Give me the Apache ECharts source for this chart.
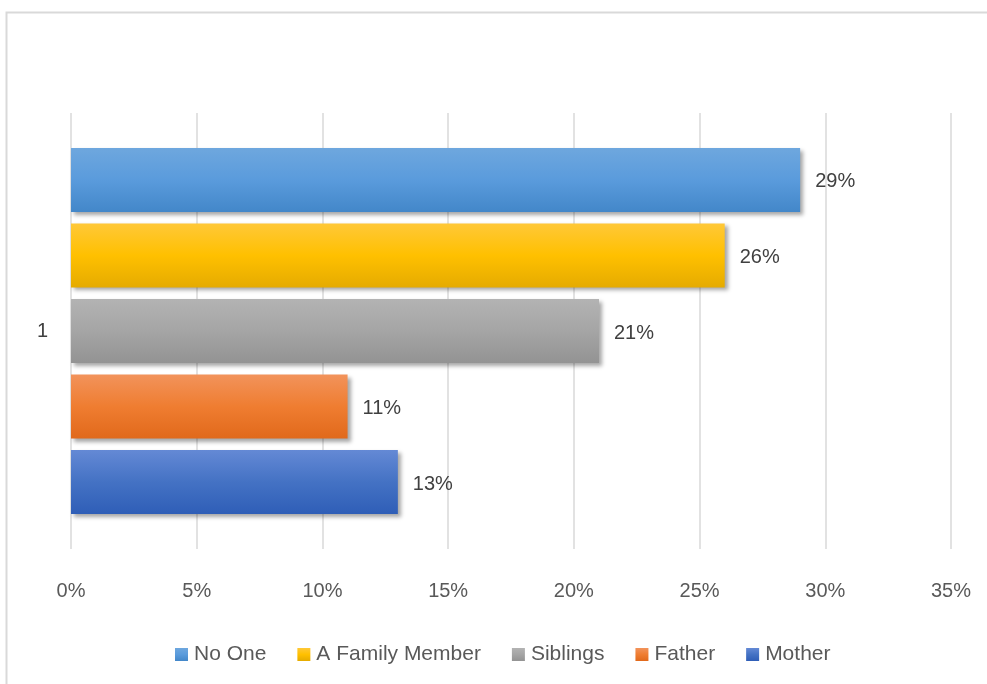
<!DOCTYPE html>
<html>
<head>
<meta charset="utf-8">
<script src="https://cdn.jsdelivr.net/npm/echarts@6/dist/echarts.min.js"></script>
<style>
  html, body { margin: 0; padding: 0; background: #ffffff; }
  #chart { width: 987px; height: 684px; }
</style>
</head>
<body>
<div id="chart"></div>
<script>
// Survey responses, one category, one bar per response
const categories = ['1'];
const seriesNames = ['No One', 'A Family Member', 'Siblings', 'Father', 'Mother'];
const seriesValues = [29, 26, 21, 11, 13];
const xTicks = [0, 5, 10, 15, 20, 25, 30, 35];

// Gradient stops per series: top, middle, bottom
const palette = [
  ['#6ea7de', '#5a9bdc', '#4387c9'],
  ['#ffc838', '#ffc000', '#e5ab00'],
  ['#b3b3b3', '#a5a5a5', '#939393'],
  ['#f2935b', '#ef7d31', '#e1691b'],
  ['#6489d5', '#4472c4', '#2f5eb7']
];

const FONT = 'Liberation Sans';

function gradient(stops) {
  return new echarts.graphic.LinearGradient(0, 0, 0, 1, [
    { offset: 0, color: stops[0] },
    { offset: 0.5, color: stops[1] },
    { offset: 1, color: stops[2] }
  ]);
}

const series = seriesNames.map((name, i) => ({
  name: name,
  type: 'bar',
  data: [seriesValues[i]],
  barWidth: 64,
  barGap: '18%',
  itemStyle: {
    color: gradient(palette[i]),
    shadowColor: 'rgba(0,0,0,0.35)',
    shadowBlur: 4,
    shadowOffsetX: 3,
    shadowOffsetY: 3
  },
  label: {
    show: true,
    position: 'right',
    distance: 15,
    offset: [0, 2],
    formatter: '{c}%',
    color: '#404040',
    fontFamily: FONT,
    fontSize: 20
  }
}));

const chart = echarts.init(document.getElementById('chart'));
chart.setOption({
  backgroundColor: '#ffffff',
  animation: false,
  graphic: [{
    type: 'rect',
    left: 4,
    top: 10,
    shape: { width: 1100, height: 800 },
    style: { fill: 'none', stroke: '#d9d9d9', lineWidth: 2 },
    silent: true
  }],
  legend: {
    data: seriesNames,
    left: 170,
    top: 639,
    itemWidth: 13,
    itemHeight: 13,
    itemGap: 31,
    icon: 'rect',
    textStyle: { color: '#595959', fontFamily: FONT, fontSize: 21, padding: [0, 0, 0, 1] }
  },
  grid: { left: 71, right: 36, top: 113, bottom: 135, containLabel: false },
  xAxis: {
    type: 'value',
    min: xTicks[0],
    max: xTicks[xTicks.length - 1],
    interval: xTicks[1] - xTicks[0],
    axisLine: { show: false },
    axisTick: { show: false },
    splitLine: { show: true, lineStyle: { color: '#d9d9d9', width: 1.5 } },
    axisLabel: {
      formatter: '{value}%',
      color: '#595959',
      fontFamily: FONT,
      fontSize: 20,
      margin: 32
    }
  },
  yAxis: {
    type: 'category',
    data: categories,
    axisLine: { show: false },
    axisTick: { show: false },
    axisLabel: { color: '#404040', fontFamily: FONT, fontSize: 20, margin: 23 }
  },
  series: series
});
</script>
</body>
</html>
